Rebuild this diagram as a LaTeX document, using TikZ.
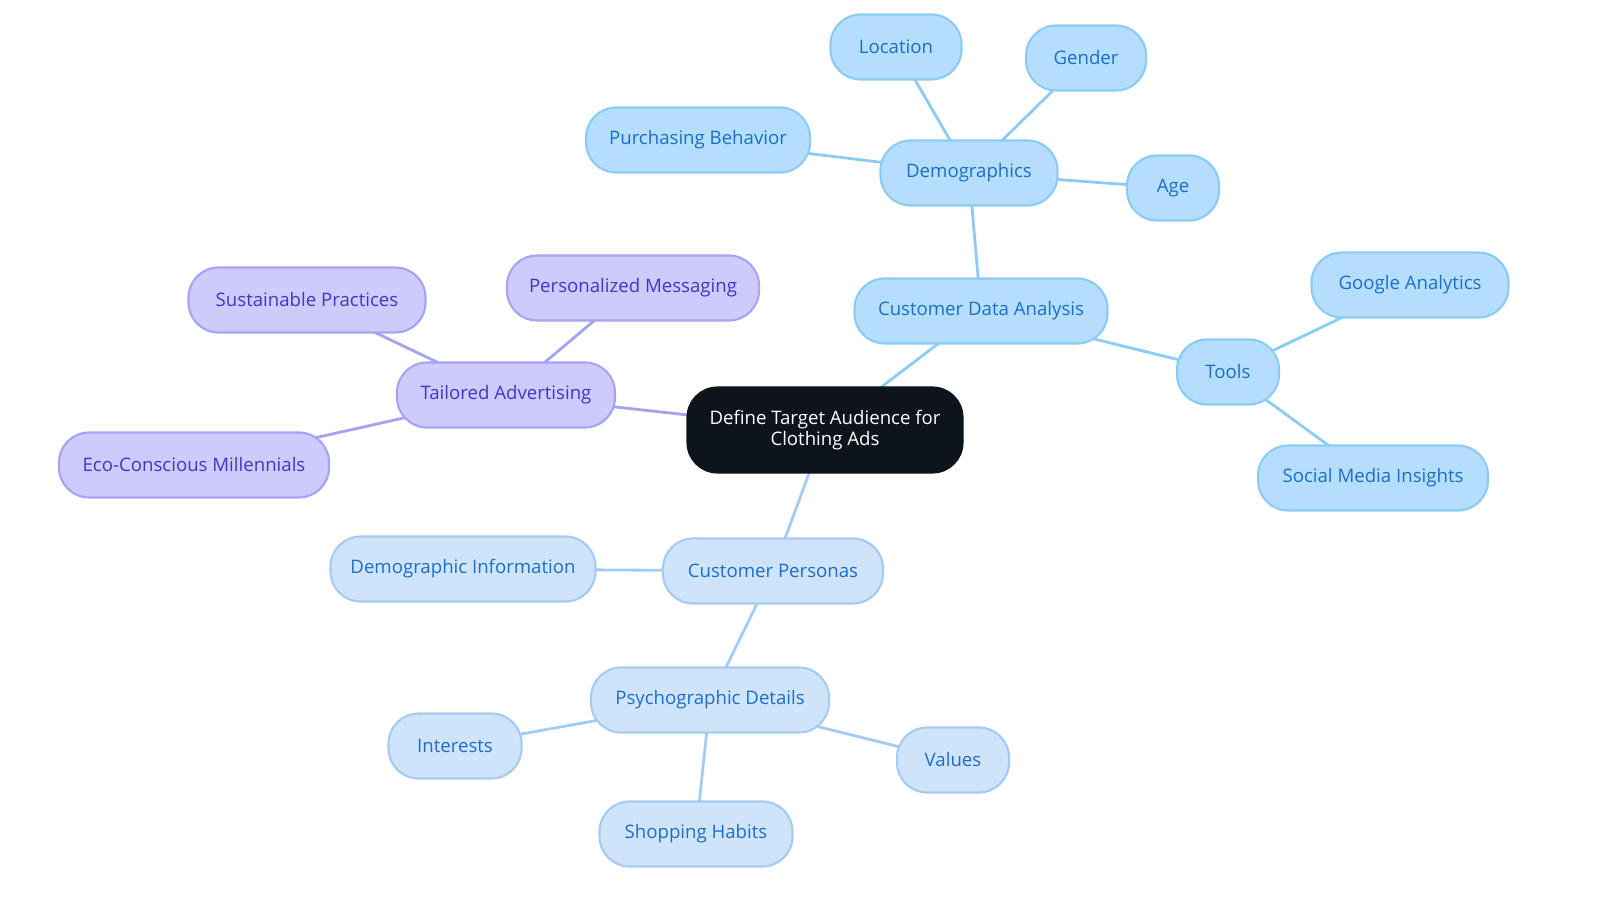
\documentclass[tikz,border=0pt]{standalone}
\usepackage{fontspec}
\setmainfont{Open Sans}
\usetikzlibrary{backgrounds}
\definecolor{rootfill}{HTML}{0D141C}
\definecolor{bluefill}{HTML}{B5DEFC}
\definecolor{blueline}{HTML}{8CCBF4}
\definecolor{bluetext}{HTML}{1B6FC8}
\definecolor{purpfill}{HTML}{CCCBFC}
\definecolor{purpline}{HTML}{A7A3F2}
\definecolor{purptext}{HTML}{4236C4}
\definecolor{litefill}{HTML}{CFE4FB}
\definecolor{liteline}{HTML}{A6CBF2}
\begin{document}
\begin{tikzpicture}
  [box/.style={rectangle,rounded corners=0.3cm,semithick,align=center,outer sep=0,
               minimum height=0.65cm,font=\fontsize{5.3}{6}\selectfont},
   root/.style={box,fill=rootfill,draw=rootfill,text=white,
                minimum height=0.85cm,minimum width=2.75cm},
   tech/.style={box,fill=bluefill,draw=blueline,text=bluetext},
   advert/.style={box,fill=purpfill,draw=purpline,text=purptext},
   persona/.style={box,fill=litefill,draw=liteline,text=bluetext},
   techlink/.style={blueline,thick},
   advlink/.style={purpline,thick},
   perslink/.style={liteline,thick}]
  \useasboundingbox (0,0) rectangle (16,9.03);
  \node[root] (root) at (8.25,4.73) {Define Target Audience for\\Clothing Ads};
  \node[tech,minimum width=2.53cm] (cda) at (9.81,5.92) {Customer Data Analysis};
  \node[tech,minimum width=1.77cm] (demo) at (9.69,7.30) {Demographics};
  \node[tech,minimum width=1.31cm] (loc) at (8.96,8.56) {Location};
  \node[tech,minimum width=1.20cm] (gender) at (10.86,8.45) {Gender};
  \node[tech,minimum width=2.24cm] (purch) at (6.98,7.63) {Purchasing Behavior};
  \node[tech,minimum width=0.92cm] (age) at (11.73,7.15) {Age};
  \node[tech,minimum width=1.02cm] (tools) at (12.28,5.31) {Tools};
  \node[tech,minimum width=1.97cm] (ga) at (14.10,6.18) {Google Analytics};
  \node[tech,minimum width=2.30cm] (smi) at (13.73,4.25) {Social Media Insights};
  \node[advert,minimum width=2.18cm] (tail) at (5.06,5.08) {Tailored Advertising};
  \node[advert,minimum width=2.37cm] (sust) at (3.07,6.03) {Sustainable Practices};
  \node[advert,minimum width=2.52cm] (pers) at (6.33,6.15) {Personalized Messaging};
  \node[advert,minimum width=2.70cm] (eco) at (1.94,4.38) {Eco-Conscious Millennials};
  \node[persona,minimum width=2.20cm] (cp) at (7.73,3.32) {Customer Personas};
  \node[persona,minimum width=2.65cm] (dinfo) at (4.63,3.34) {Demographic Information};
  \node[persona,minimum width=2.38cm] (psy) at (7.10,2.03) {Psychographic Details};
  \node[persona,minimum width=1.33cm] (int) at (4.55,1.57) {Interests};
  \node[persona,minimum width=1.12cm] (val) at (9.53,1.43) {Values};
  \node[persona,minimum width=1.93cm] (shop) at (6.96,0.69) {Shopping Habits};
  \begin{scope}[on background layer]
  \draw[techlink] (root.center) -- (cda.center);
  \draw[techlink] (cda.center) -- (demo.center);
  \draw[techlink] (demo.center) -- (loc.center);
  \draw[techlink] (demo.center) -- (gender.center);
  \draw[techlink] (demo.center) -- (purch.center);
  \draw[techlink] (demo.center) -- (age.center);
  \draw[techlink] (cda.center) -- (tools.center);
  \draw[techlink] (tools.center) -- (ga.center);
  \draw[techlink] (tools.center) -- (smi.center);
  \draw[advlink] (root.center) -- (tail.center);
  \draw[advlink] (tail.center) -- (sust.center);
  \draw[advlink] (tail.center) -- (pers.center);
  \draw[advlink] (tail.center) -- (eco.center);
  \draw[perslink] (root.center) -- (cp.center);
  \draw[perslink] (cp.center) -- (dinfo.center);
  \draw[perslink] (cp.center) -- (psy.center);
  \draw[perslink] (psy.center) -- (int.center);
  \draw[perslink] (psy.center) -- (val.center);
  \draw[perslink] (psy.center) -- (shop.center);
  \end{scope}
\end{tikzpicture}
\end{document}
